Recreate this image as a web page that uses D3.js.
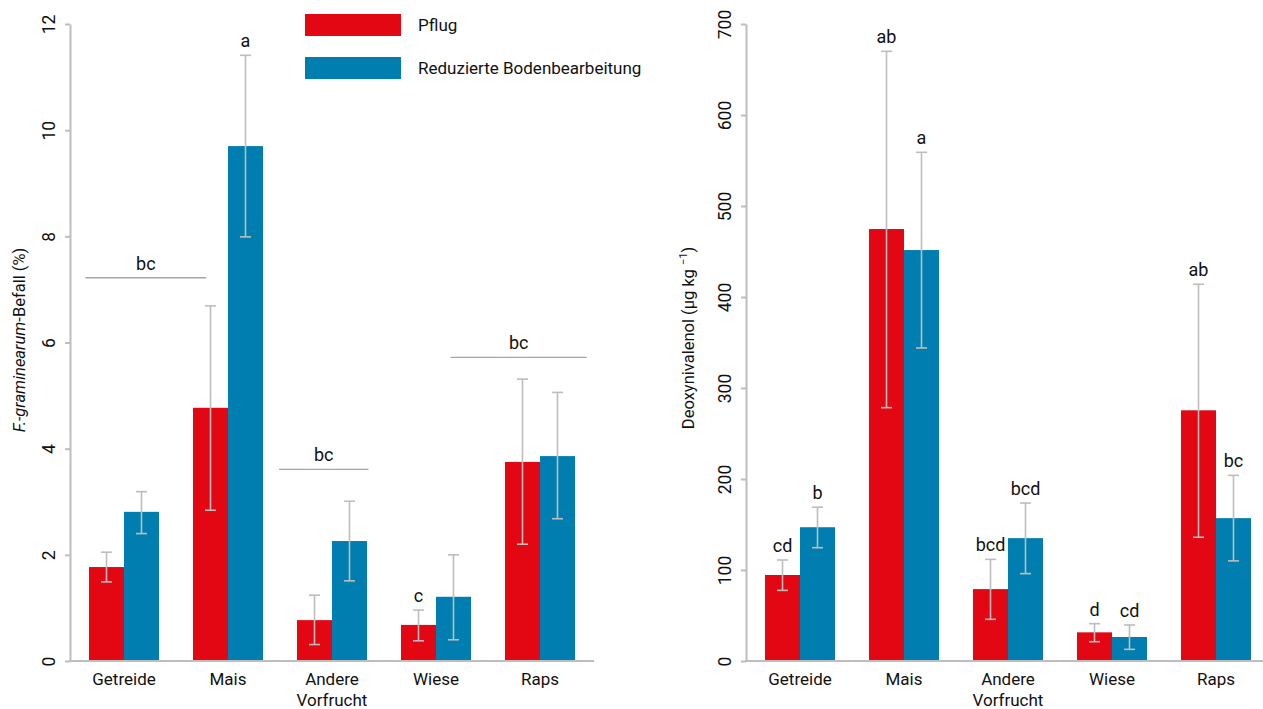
<!DOCTYPE html>
<html>
<head>
<meta charset="utf-8">
<script src="https://cdn.jsdelivr.net/npm/d3@7"></script>
<style>
  body { margin: 0; background: #fff; }
  svg { display: block; font-family: Roboto, "Noto Sans", sans-serif; }
</style>
</head>
<body>
<svg id="chart" width="1263" height="709"></svg>
<script>
// categories and series
const categories = ["Getreide", "Mais", "Andere Vorfrucht", "Wiese", "Raps"];
const categoryLines = [["Getreide"], ["Mais"], ["Andere", "Vorfrucht"], ["Wiese"], ["Raps"]];
const series = ["Pflug", "Reduzierte Bodenbearbeitung"];

// left panel: F. graminearum infection (%)
const befallPflug = [1.77, 4.77, 0.77, 0.68, 3.75];
const befallPflugErr = [[1.49, 2.05], [2.84, 6.69], [0.31, 1.24], [0.38, 0.96], [2.20, 5.31]];
const befallReduziert = [2.81, 9.70, 2.26, 1.21, 3.86];
const befallReduziertErr = [[2.40, 3.19], [7.99, 11.41], [1.51, 3.01], [0.40, 2.00], [2.68, 5.06]];
const befallLetters = [["", ""], ["", "a"], ["", ""], ["c", ""], ["", ""]];
// group significance bars: position in category units (0 = centre of first category)
const befallGroups = [
  {label: "bc", from: -0.37, to: 0.79, value: 7.22},
  {label: "bc", from: 1.49, to: 2.35, value: 3.61},
  {label: "bc", from: 3.14, to: 4.45, value: 5.72}
];
const befallTicks = [0, 2, 4, 6, 8, 10, 12];

// right panel: deoxynivalenol (µg/kg)
const donPflug = [94.5, 474.7, 79, 31.5, 275.5];
const donPflugErr = [[77.6, 111], [278.4, 670], [45.8, 111.7], [21.2, 41], [136, 414]];
const donReduziert = [147, 451.6, 135, 26.4, 157];
const donReduziertErr = [[124.5, 169], [344, 559], [96, 173.6], [12.8, 39.6], [110, 204]];
const donLetters = [["cd", "b"], ["ab", "a"], ["bcd", "bcd"], ["d", "cd"], ["ab", "bc"]];
const donTicks = [0, 100, 200, 300, 400, 500, 600, 700];

const colors = {"Pflug": "#e30613", "Reduzierte Bodenbearbeitung": "#007eaf"};
const grey = "#bdbdbd";

const svg = d3.select("#chart");

function drawPanel(p) {
  const g = svg.append("g");
  const y = d3.scaleLinear().domain([0, p.max]).range([661, 24]);
  const x = d3.scaleBand().domain(categories).range(p.range).padding(0.327);
  const xs = d3.scaleBand().domain(series).range([0, x.bandwidth()]);
  const step = x.step();
  const pos = t => x(categories[0]) + x.bandwidth() / 2 + t * step;

  const rows = categories.map((c, i) => [
    {cat: c, s: series[0], v: p.a[i], err: p.aErr[i], letter: p.letters[i][0]},
    {cat: c, s: series[1], v: p.b[i], err: p.bErr[i], letter: p.letters[i][1]}
  ]).flat();

  // bars
  g.append("g").selectAll("rect")
    .data(rows)
    .enter().append("rect")
    .attr("x", d => x(d.cat) + xs(d.s))
    .attr("width", xs.bandwidth())
    .attr("y", d => y(d.v))
    .attr("height", d => y(0) - y(d.v))
    .attr("fill", d => colors[d.s]);

  // error bars
  const eb = g.append("g").attr("stroke", grey).attr("stroke-width", 1.6)
    .selectAll("g").data(rows).enter().append("g")
    .attr("transform", d => `translate(${x(d.cat) + xs(d.s) + xs.bandwidth() / 2},0)`);
  eb.append("line").attr("y1", d => y(d.err[0])).attr("y2", d => y(d.err[1]));
  eb.append("line").attr("x1", -5.5).attr("x2", 5.5)
    .attr("y1", d => y(d.err[0])).attr("y2", d => y(d.err[0]));
  eb.append("line").attr("x1", -5.5).attr("x2", 5.5)
    .attr("y1", d => y(d.err[1])).attr("y2", d => y(d.err[1]));

  // letters
  g.append("g").selectAll("text")
    .data(rows.filter(d => d.letter))
    .enter().append("text")
    .attr("x", d => x(d.cat) + xs(d.s) + xs.bandwidth() / 2)
    .attr("y", d => y(d.err[1]) - 8)
    .attr("text-anchor", "middle")
    .attr("font-size", 18)
    .attr("fill", "#111")
    .text(d => d.letter);

  // group lines
  const gl = g.append("g").selectAll("g").data(p.groups || []).enter().append("g");
  gl.append("line")
    .attr("x1", d => pos(d.from)).attr("x2", d => pos(d.to))
    .attr("y1", d => y(d.value)).attr("y2", d => y(d.value))
    .attr("stroke", "#a6a6a6").attr("stroke-width", 1.3);
  gl.append("text")
    .attr("x", d => (pos(d.from) + pos(d.to)) / 2)
    .attr("y", d => y(d.value) - 8)
    .attr("text-anchor", "middle")
    .attr("font-size", 18)
    .attr("fill", "#111")
    .text(d => d.label);

  // y axis
  const ax = g.append("g")
    .attr("transform", `translate(${p.axisX},0)`)
    .call(d3.axisLeft(y).tickValues(p.ticks).tickSize(5).tickSizeOuter(0));
  ax.select(".domain").attr("stroke", grey).attr("stroke-width", 2);
  ax.selectAll(".tick line").attr("stroke", grey).attr("stroke-width", 2);
  ax.selectAll(".tick text")
    .attr("transform", "rotate(-90)")
    .attr("x", 0).attr("y", -15).attr("dy", null)
    .attr("text-anchor", "middle")
    .attr("font-size", 17.5)
    .attr("font-family", "Roboto, sans-serif")
    .attr("fill", "#111");

  // x axis line
  g.append("line")
    .attr("x1", p.axisX - 1).attr("x2", p.axisEnd)
    .attr("y1", y(0)).attr("y2", y(0))
    .attr("stroke", grey).attr("stroke-width", 2);

  // category labels
  const cl = g.append("g").selectAll("text")
    .data(categories).enter().append("text")
    .attr("x", d => x(d) + x.bandwidth() / 2)
    .attr("y", 685)
    .attr("text-anchor", "middle")
    .attr("font-size", 17)
    .attr("fill", "#111");
  cl.selectAll("tspan")
    .data((d, i) => categoryLines[i])
    .enter().append("tspan")
    .attr("x", function() { return this.parentNode.getAttribute("x"); })
    .attr("dy", (d, i) => i ? 21 : 0)
    .text(d => d);

  // axis title
  const t = g.append("text")
    .attr("transform", `translate(${p.titleX},${p.titleY}) rotate(-90)`)
    .attr("text-anchor", "middle")
    .attr("font-size", 16.5)
    .attr("fill", "#111");
  p.title(t);
}

drawPanel({
  max: 12, range: [55, 609], axisX: 70, axisEnd: 594,
  a: befallPflug, aErr: befallPflugErr, b: befallReduziert, bErr: befallReduziertErr,
  letters: befallLetters, groups: befallGroups, ticks: befallTicks,
  titleX: 25, titleY: 340,
  title: t => {
    t.append("tspan").attr("font-style", "italic").text("F.-graminearum");
    t.append("tspan").text("-Befall (%)");
  }
});

drawPanel({
  max: 700, range: [731, 1285], axisX: 746, axisEnd: 1263,
  a: donPflug, aErr: donPflugErr, b: donReduziert, bErr: donReduziertErr,
  letters: donLetters, groups: [], ticks: donTicks,
  titleX: 694, titleY: 338,
  title: t => {
    t.append("tspan").text("Deoxynivalenol (µg kg ");
    t.append("tspan").attr("font-size", 11).attr("dy", -7).text("−1");
    t.append("tspan").attr("dy", 7).text(")");
  }
});

// legend
const legend = svg.append("g").selectAll("g")
  .data(series).enter().append("g")
  .attr("transform", (d, i) => `translate(305,${14 + i * 43})`);
legend.append("rect").attr("width", 96).attr("height", 22).attr("fill", d => colors[d]);
legend.append("text")
  .attr("x", 113).attr("y", 17)
  .attr("font-size", 17)
  .attr("fill", "#111")
  .text(d => d);
</script>
</body>
</html>
